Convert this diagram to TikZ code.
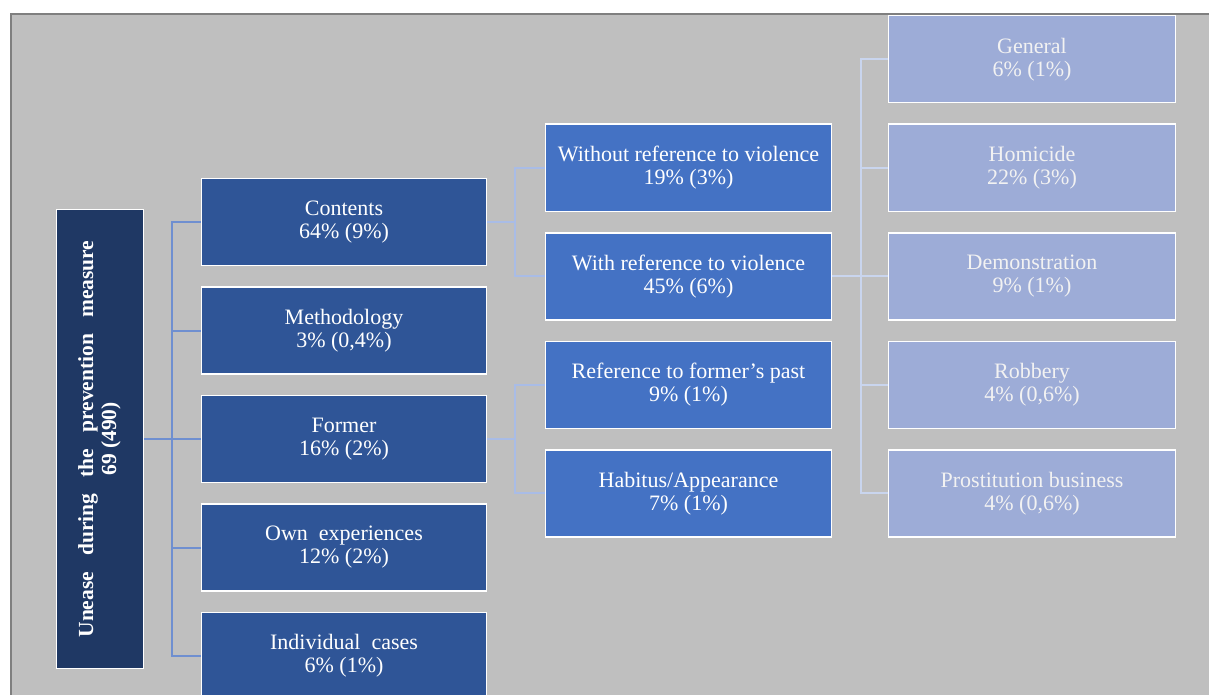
\documentclass[tikz,border=0pt]{standalone}
\usepackage{fontspec}
\setmainfont{Liberation Serif}
\usetikzlibrary{positioning}

\definecolor{bggrey}{HTML}{BFBFBF}
\definecolor{framegrey}{HTML}{7F7F7F}
\definecolor{rootblue}{HTML}{1F3864}
\definecolor{catblue}{HTML}{2F5597}
\definecolor{subblue}{HTML}{4472C4}
\definecolor{leafblue}{HTML}{9DACD7}
\definecolor{linkone}{HTML}{6F8FD0}
\definecolor{linktwo}{HTML}{A9BCE6}
\definecolor{linkthree}{HTML}{C9D5EE}

\begin{document}
\begin{tikzpicture}[
  box/.style={draw=white, line width=1.5pt, text=white, inner sep=0pt, align=center,
    minimum height=87pt, font=\fontsize{22}{23}\selectfont},
  rootbox/.style={box, fill=rootblue, minimum width=87pt, minimum height=459pt,
    font=\fontsize{21.5}{23}\selectfont\bfseries},
  catbox/.style={box, fill=catblue, minimum width=285pt},
  subbox/.style={box, fill=subblue, minimum width=286pt},
  leafbox/.style={box, fill=leafblue, minimum width=287pt, text=white!95!black},
  tierone/.style={draw=linkone, line width=2pt},
  tiertwo/.style={draw=linktwo, line width=1.6pt},
  tierthree/.style={draw=linkthree, line width=1.6pt},
  node distance=20pt
]
\useasboundingbox (0,0) rectangle (1209pt,-695pt);
\fill[bggrey] (11pt,-14pt) rectangle (1209pt,-695pt);

\begin{scope}
\clip (12pt,-15pt) rectangle (1209pt,-695pt);

% Define nodes
\node[rootbox] (root) at (100pt,-439pt) {\rotatebox{90}{\begin{tabular}{@{}c@{}}
  \makebox[397pt][s]{Unease during the prevention measure}\\ 69 (490)\end{tabular}}};

\node[catbox, right=56.5pt of root] (former) {Former\\16\% (2\%)};
\node[catbox, above=of former] (methodology) {Methodology\\3\% (0,4\%)};
\node[catbox, above=of methodology] (contents) {Contents\\64\% (9\%)};
\node[catbox, below=of former] (own) {Own\ \ experiences\\12\% (2\%)};
\node[catbox, below=of own] (individual) {Individual\ \ cases\\6\% (1\%)};

\node[subbox, above right=10pt and 57.5pt of contents.east] (without) {Without reference to violence\\19\% (3\%)};
\node[subbox, below right=10pt and 57.5pt of contents.east] (with) {With reference to violence\\45\% (6\%)};
\node[subbox, above right=10pt and 57.5pt of former.east] (past) {Reference to former's past\\9\% (1\%)};
\node[subbox, below right=10pt and 57.5pt of former.east] (habitus) {Habitus/Appearance\\7\% (1\%)};

\node[leafbox, right=55.5pt of with] (demonstration) {Demonstration\\9\% (1\%)};
\node[leafbox, above=of demonstration] (homicide) {Homicide\\22\% (3\%)};
\node[leafbox, above=of homicide] (general) {General\\6\% (1\%)};
\node[leafbox, below=of demonstration] (robbery) {Robbery\\4\% (0,6\%)};
\node[leafbox, below=of robbery] (prostitution) {Prostitution business\\4\% (0,6\%)};

% Edges
\foreach \n in {contents,methodology,former,own,individual}
  \draw[tierone] (root.east) -- ++(28pt,0) |- (\n.west);
\foreach \n in {without,with}
  \draw[tiertwo] (contents.east) -- ++(28pt,0) |- (\n.west);
\foreach \n in {past,habitus}
  \draw[tiertwo] (former.east) -- ++(28pt,0) |- (\n.west);
\foreach \n in {general,homicide,demonstration,robbery,prostitution}
  \draw[tierthree] (with.east) -- ++(29pt,0) |- (\n.west);
\end{scope}

% Frame
\draw[framegrey, line width=2.5pt] (11pt,-695pt) -- (11pt,-14pt) -- (1209pt,-14pt);
\end{tikzpicture}
\end{document}
